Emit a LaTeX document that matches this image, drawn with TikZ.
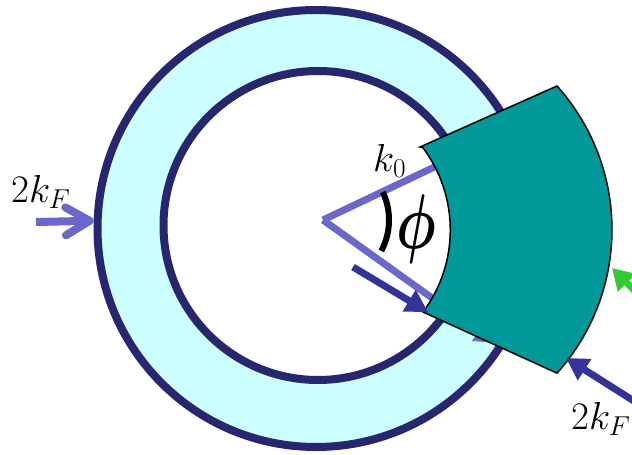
\documentclass[tikz,border=0pt]{standalone}
\usepackage{fix-cm}
\usepackage{graphicx}
\usetikzlibrary{arrows.meta}
\definecolor{cring}{RGB}{40,38,112}
\definecolor{cfill}{RGB}{204,255,255}
\definecolor{csector}{RGB}{0,153,153}
\definecolor{ck}{RGB}{106,104,204}
\definecolor{cdark}{RGB}{51,51,153}
\definecolor{cgreen}{RGB}{51,204,51}

\begin{document}
\begin{tikzpicture}[
  x=1pt, y=1pt,
  ring/.style={circle, draw=cring, line width=8pt, inner sep=0pt},
  kline/.style={draw=ck, line width=7pt},
  kar/.style={draw=ck, line width=8pt, -{Straight Barb[length=24pt,width=28pt,round]}},
  dar/.style={draw=cdark, line width=7pt, -{Triangle[length=22pt,width=24pt]}},
  gar/.style={draw=cgreen, line width=7pt, -{Triangle[length=21pt,width=24pt]}},
  sector/.style={fill=csector, draw=black, line width=1.5pt, line join=miter},
  lbl/.style={inner sep=0pt, font=\fontsize{39}{44}\selectfont},
]
\useasboundingbox (0,0) rectangle (632,455);
% ring
\node[ring, fill=cfill, minimum size=437pt] (outer) at (316,226.5) {};
\node[ring, fill=white, minimum size=309pt] (inner) at (318,229.5) {};
% wave vectors
\coordinate (vtx) at (323,235);
\coordinate (kup) at (445,293);
\coordinate (klow) at (495,112);
\draw[kline] (vtx) -- (kup);
\draw[kline, -{Triangle[length=20pt,width=22pt]}] (vtx) -- (klow);
\draw[line width=6pt] (vtx) ++(25:66) arc[start angle=25, end angle=-28, radius=66];
% sector
\draw[sector] (420,308) -- (557,369) arc[start angle=41.9, end angle=-41.9, radius=215]
  -- (423,143) arc[start angle=-36.8, end angle=37, radius=137] -- cycle;
% arrows
\coordinate (kFin) at (36,233);
\coordinate (qs) at (353,188);
\coordinate (qe) at (428,143);
\coordinate (rs) at (645,47);
\coordinate (re) at (566,97);
\coordinate (gs) at (650,149);
\coordinate (ge) at (612,187);
\draw[kar] (kFin) -- (outer.178);
\draw[dar] (qs) -- (qe);
\draw[dar] (rs) -- (re);
\draw[gar] (gs) -- (ge);
% labels
\node[lbl, anchor=base west] (kFl) at (11,252) {$2k_F$};
\node[lbl, anchor=base west] (kFr) at (571,25) {$2k_F$};
\node[lbl, anchor=base west] (kz) at (373,283) {$k_0$};
\node[inner sep=0pt, font=\fontsize{62}{70}\selectfont\mathversion{bold}] (phi) at (416,226) {\scalebox{0.9}[1.25]{$\phi$}};
\end{tikzpicture}
\end{document}
